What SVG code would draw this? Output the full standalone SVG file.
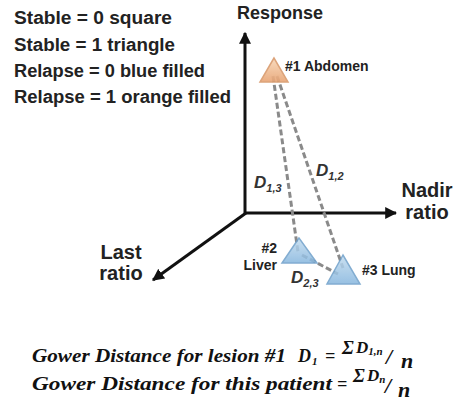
<svg xmlns="http://www.w3.org/2000/svg" width="457" height="404" viewBox="0 0 457 404">
<style>
.leg{font-family:"Liberation Sans",Arial,sans-serif;font-weight:bold;font-size:18px;fill:#222}
.ax{font-family:"Liberation Sans",Arial,sans-serif;font-weight:bold;font-size:20px;fill:#222}
.lbl{font-family:"Liberation Sans",Arial,sans-serif;font-weight:bold;font-size:14px;fill:#222}
.dl{font-family:"Liberation Sans",Arial,sans-serif;font-weight:bold;font-style:italic;fill:#333}
.axis{stroke:#111;stroke-width:3;fill:none}
.dash{stroke:#8a8a8a;stroke-width:3;stroke-dasharray:6,3;fill:none}
.fm{font-family:"Liberation Serif","DejaVu Serif",serif;font-weight:bold;font-style:italic;fill:#111}
</style>
<defs>
<marker id="ah" viewBox="0 0 10 10" refX="9" refY="5" markerWidth="4" markerHeight="4" orient="auto" markerUnits="strokeWidth">
<path d="M0,0 L10,5 L0,10 z" fill="#111"/>
</marker>
<linearGradient id="og" x1="0" y1="0" x2="0" y2="1">
<stop offset="0" stop-color="#f8d8b8"/><stop offset="1" stop-color="#e8a474"/>
</linearGradient>
<linearGradient id="bg" x1="0" y1="0" x2="0" y2="1">
<stop offset="0" stop-color="#c3dcef"/><stop offset="1" stop-color="#86b6de"/>
</linearGradient>
</defs>
<rect width="457" height="404" fill="#fff"/>
<g id="legend">
<text class="leg" x="14" y="24" textLength="158" lengthAdjust="spacingAndGlyphs">Stable = 0 square</text>
<text class="leg" x="14" y="51" textLength="161" lengthAdjust="spacingAndGlyphs">Stable = 1 triangle</text>
<text class="leg" x="14" y="77" textLength="191" lengthAdjust="spacingAndGlyphs">Relapse = 0 blue filled</text>
<text class="leg" x="14" y="103" textLength="217" lengthAdjust="spacingAndGlyphs">Relapse = 1 orange filled</text>
</g>
<g id="axes">
<line class="axis" x1="245" y1="214" x2="245" y2="33" marker-end="url(#ah)"/>
<line class="axis" x1="244" y1="213" x2="396" y2="213" marker-end="url(#ah)"/>
<line class="axis" x1="246" y1="213" x2="153" y2="280" marker-end="url(#ah)"/>
<text class="leg" x="237" y="19">Response</text>
<text class="ax" x="427" y="197" text-anchor="middle">Nadir</text>
<text class="ax" x="427" y="219" text-anchor="middle">ratio</text>
<text class="ax" x="121" y="259" text-anchor="middle">Last</text>
<text class="ax" x="121" y="280" text-anchor="middle">ratio</text>
</g>
<g id="connectors">
<line class="dash" x1="273" y1="76" x2="298" y2="252"/>
<line class="dash" x1="277" y1="76" x2="343" y2="268"/>
<line class="dash" x1="302" y1="255" x2="338" y2="274"/>
<text class="dl" x="254" y="188" font-size="17">D<tspan font-size="11" dy="4">1,3</tspan></text>
<text class="dl" x="316" y="176" font-size="17">D<tspan font-size="11" dy="4">1,2</tspan></text>
<text class="dl" x="291" y="283" font-size="17">D<tspan font-size="11" dy="4">2,3</tspan></text>
</g>
<g id="lesion1">
<polygon points="274,58 260,82 288,82" fill="url(#og)" stroke="#d99a6c" stroke-width="1.5" opacity="0.9"/>
<text class="lbl" x="285" y="71">#1 Abdomen</text>
</g>
<g id="lesion2">
<polygon points="299,238 282,263 317,263" fill="url(#bg)" stroke="#6d9fca" stroke-width="1.5" opacity="0.85"/>
<text class="lbl" x="277" y="253" text-anchor="end">#2</text>
<text class="lbl" x="277" y="270" text-anchor="end">Liver</text>
</g>
<g id="lesion3">
<polygon points="343,255 327,284 360,284" fill="url(#bg)" stroke="#6d9fca" stroke-width="1.5" opacity="0.85"/>
<text class="lbl" x="362" y="275">#3 Lung</text>
</g>
<g id="formulas">
<text class="fm" x="32" y="362" font-size="18" textLength="254" lengthAdjust="spacingAndGlyphs">Gower Distance for lesion #1</text>
<text class="fm" x="298" y="362" font-size="18">D<tspan font-size="11" dx="1" dy="3">1</tspan></text>
<text class="fm" x="325" y="362" font-size="18" font-style="normal">=</text>
<text class="fm" x="342" y="354" font-size="19" font-style="normal" font-weight="normal">Σ</text>
<text class="fm" x="356" y="353" font-size="17">D<tspan font-size="11" dy="2">1,n</tspan></text>
<text class="fm" x="386" y="364" font-size="22" font-weight="normal">/</text>
<text class="fm" x="401" y="368" font-size="22">n</text>
<text class="fm" x="32" y="390" font-size="18" textLength="300" lengthAdjust="spacingAndGlyphs">Gower Distance for this patient</text>
<text class="fm" x="337" y="390" font-size="18" font-style="normal">=</text>
<text class="fm" x="353" y="382" font-size="19" font-style="normal" font-weight="normal">Σ</text>
<text class="fm" x="367" y="381" font-size="17">D<tspan font-size="11" dy="2">n</tspan></text>
<text class="fm" x="385" y="393" font-size="22" font-weight="normal">/</text>
<text class="fm" x="398" y="397" font-size="22">n</text>
</g>
</svg>
